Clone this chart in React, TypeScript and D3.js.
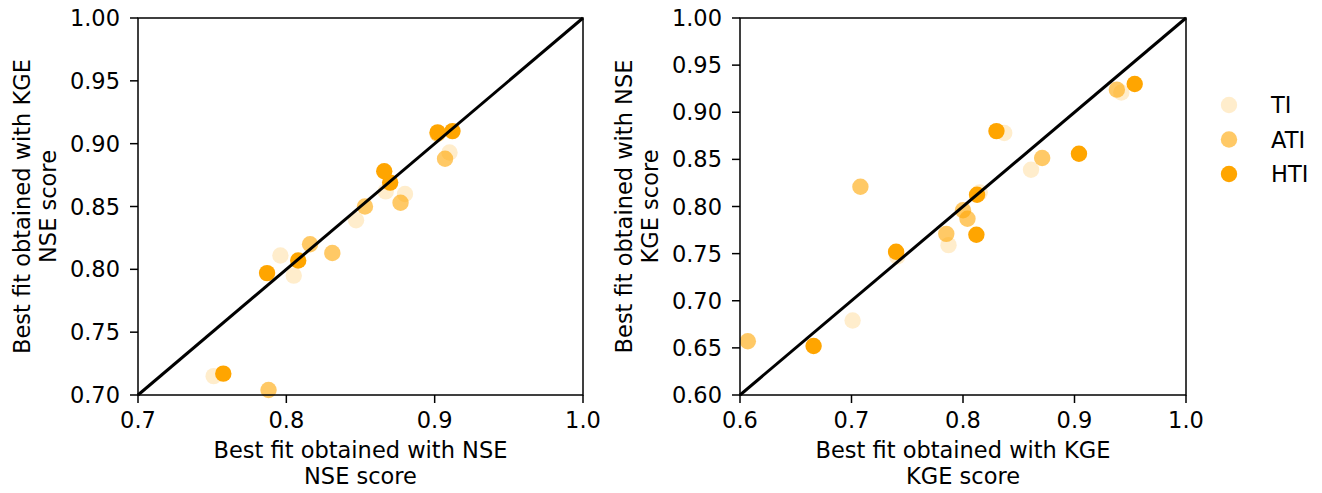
import React from "react";
import * as d3 from "d3";

// Left panel: NSE of NSE-calibrated fit (x) vs NSE of KGE-calibrated fit (y)
const nseTI_x = [0.91, 0.867, 0.88, 0.847, 0.796, 0.805, 0.751];
const nseTI_y = [0.893, 0.862, 0.86, 0.839, 0.811, 0.795, 0.715];
const nseATI_x = [0.907, 0.853, 0.877, 0.816, 0.831, 0.788, 0.902];
const nseATI_y = [0.888, 0.85, 0.853, 0.82, 0.813, 0.704, 0.908];
const nseHTI_x = [0.902, 0.912, 0.866, 0.87, 0.808, 0.787, 0.7575];
const nseHTI_y = [0.909, 0.91, 0.878, 0.869, 0.807, 0.797, 0.717];

// Right panel: KGE of KGE-calibrated fit (x) vs KGE of NSE-calibrated fit (y)
const kgeTI_x = [0.942, 0.837, 0.861, 0.815, 0.787, 0.701, 0.741];
const kgeTI_y = [0.921, 0.878, 0.839, 0.815, 0.759, 0.679, 0.747];
const kgeATI_x = [0.938, 0.871, 0.708, 0.8, 0.804, 0.785, 0.607];
const kgeATI_y = [0.924, 0.8515, 0.821, 0.796, 0.787, 0.771, 0.657];
const kgeHTI_x = [0.954, 0.83, 0.904, 0.8126, 0.812, 0.74, 0.666];
const kgeHTI_y = [0.93, 0.88, 0.856, 0.8125, 0.77, 0.752, 0.652];

const seriesNames = ["TI", "ATI", "HTI"];
const seriesAlpha = [0.2, 0.6, 1];
const leftTicksX = [0.7, 0.8, 0.9, 1.0];
const leftTicksY = [0.7, 0.75, 0.8, 0.85, 0.9, 0.95, 1.0];
const rightTicksX = [0.6, 0.7, 0.8, 0.9, 1.0];
const rightTicksY = [0.6, 0.65, 0.7, 0.75, 0.8, 0.85, 0.9, 0.95, 1.0];

const FONT = "'DejaVu Sans', sans-serif";
const FS = 22.5;
const ORANGE = "#ffa500";

type PanelProps = {
  x0: number;
  x1: number;
  domain: [number, number];
  xticks: number[];
  yticks: number[];
  xfmt: (v: number) => string;
  yfmt: (v: number) => string;
  series: [number[], number[]][];
  xlabel: string[];
  ylabel: string[];
};

function Panel(p: PanelProps) {
  const top = 18;
  const bottom = 395;
  const xs = d3.scaleLinear().domain(p.domain).range([p.x0, p.x1]);
  const ys = d3.scaleLinear().domain(p.domain).range([bottom, top]);
  const cx = (p.x0 + p.x1) / 2;
  const cy = (top + bottom) / 2;
  return (
    <g>
      {p.series.map(([sx, sy], si) =>
        sx.map((v, i) => (
          <circle
            key={`${si}-${i}`}
            cx={xs(v)}
            cy={ys(sy[i])}
            r={8.2}
            fill={ORANGE}
            fillOpacity={seriesAlpha[si]}
          />
        ))
      )}
      <line
        x1={xs(p.domain[0])}
        y1={ys(p.domain[0])}
        x2={xs(p.domain[1])}
        y2={ys(p.domain[1])}
        stroke="#000"
        strokeWidth={3}
      />
      <rect
        x={p.x0}
        y={top}
        width={p.x1 - p.x0}
        height={bottom - top}
        fill="none"
        stroke="#000"
        strokeWidth={1.5}
      />
      {p.xticks.map((t) => (
        <g key={`x${t}`}>
          <line x1={xs(t)} x2={xs(t)} y1={bottom} y2={bottom + 8} stroke="#000" strokeWidth={1.5} />
          <text x={xs(t)} y={bottom + 33} textAnchor="middle" fontFamily={FONT} fontSize={FS}>
            {p.xfmt(t)}
          </text>
        </g>
      ))}
      {p.yticks.map((t) => (
        <g key={`y${t}`}>
          <line x1={p.x0 - 8} x2={p.x0} y1={ys(t)} y2={ys(t)} stroke="#000" strokeWidth={1.5} />
          <text
            x={p.x0 - 18}
            y={ys(t)}
            dy="0.36em"
            textAnchor="end"
            fontFamily={FONT}
            fontSize={FS}
          >
            {p.yfmt(t)}
          </text>
        </g>
      ))}
      {p.xlabel.map((s, i) => (
        <text key={`xl${i}`} x={cx} y={458 + i * 25.5} textAnchor="middle" fontFamily={FONT} fontSize={FS}>
          {s}
        </text>
      ))}
      {p.ylabel.map((s, i) => (
        <text
          key={`yl${i}`}
          transform={`translate(${p.x0 - 108 + i * 25.5},${cy}) rotate(-90)`}
          textAnchor="middle"
          fontFamily={FONT}
          fontSize={FS}
        >
          {s}
        </text>
      ))}
    </g>
  );
}

export default function App() {
  const f1 = d3.format(".1f");
  const f2 = d3.format(".2f");
  return (
    <svg
      width={1322}
      height={493}
      style={{ position: "absolute", left: 0, top: 0, background: "#fff" }}
    >
      <Panel
        x0={138}
        x1={583}
        domain={[0.7, 1.0]}
        xticks={leftTicksX}
        yticks={leftTicksY}
        xfmt={f1}
        yfmt={f2}
        series={[
          [nseTI_x, nseTI_y],
          [nseATI_x, nseATI_y],
          [nseHTI_x, nseHTI_y],
        ]}
        xlabel={["Best fit obtained with NSE", "NSE score"]}
        ylabel={["Best fit obtained with KGE", "NSE score"]}
      />
      <Panel
        x0={740}
        x1={1186}
        domain={[0.6, 1.0]}
        xticks={rightTicksX}
        yticks={rightTicksY}
        xfmt={f1}
        yfmt={f2}
        series={[
          [kgeTI_x, kgeTI_y],
          [kgeATI_x, kgeATI_y],
          [kgeHTI_x, kgeHTI_y],
        ]}
        xlabel={["Best fit obtained with KGE", "KGE score"]}
        ylabel={["Best fit obtained with NSE", "KGE score"]}
      />
      {seriesNames.map((n, i) => (
        <g key={n}>
          <circle cx={1229} cy={105 + i * 34.5} r={8.2} fill={ORANGE} fillOpacity={seriesAlpha[i]} />
          <text x={1271} y={105 + i * 34.5} dy="0.36em" fontFamily={FONT} fontSize={FS}>
            {n}
          </text>
        </g>
      ))}
    </svg>
  );
}
